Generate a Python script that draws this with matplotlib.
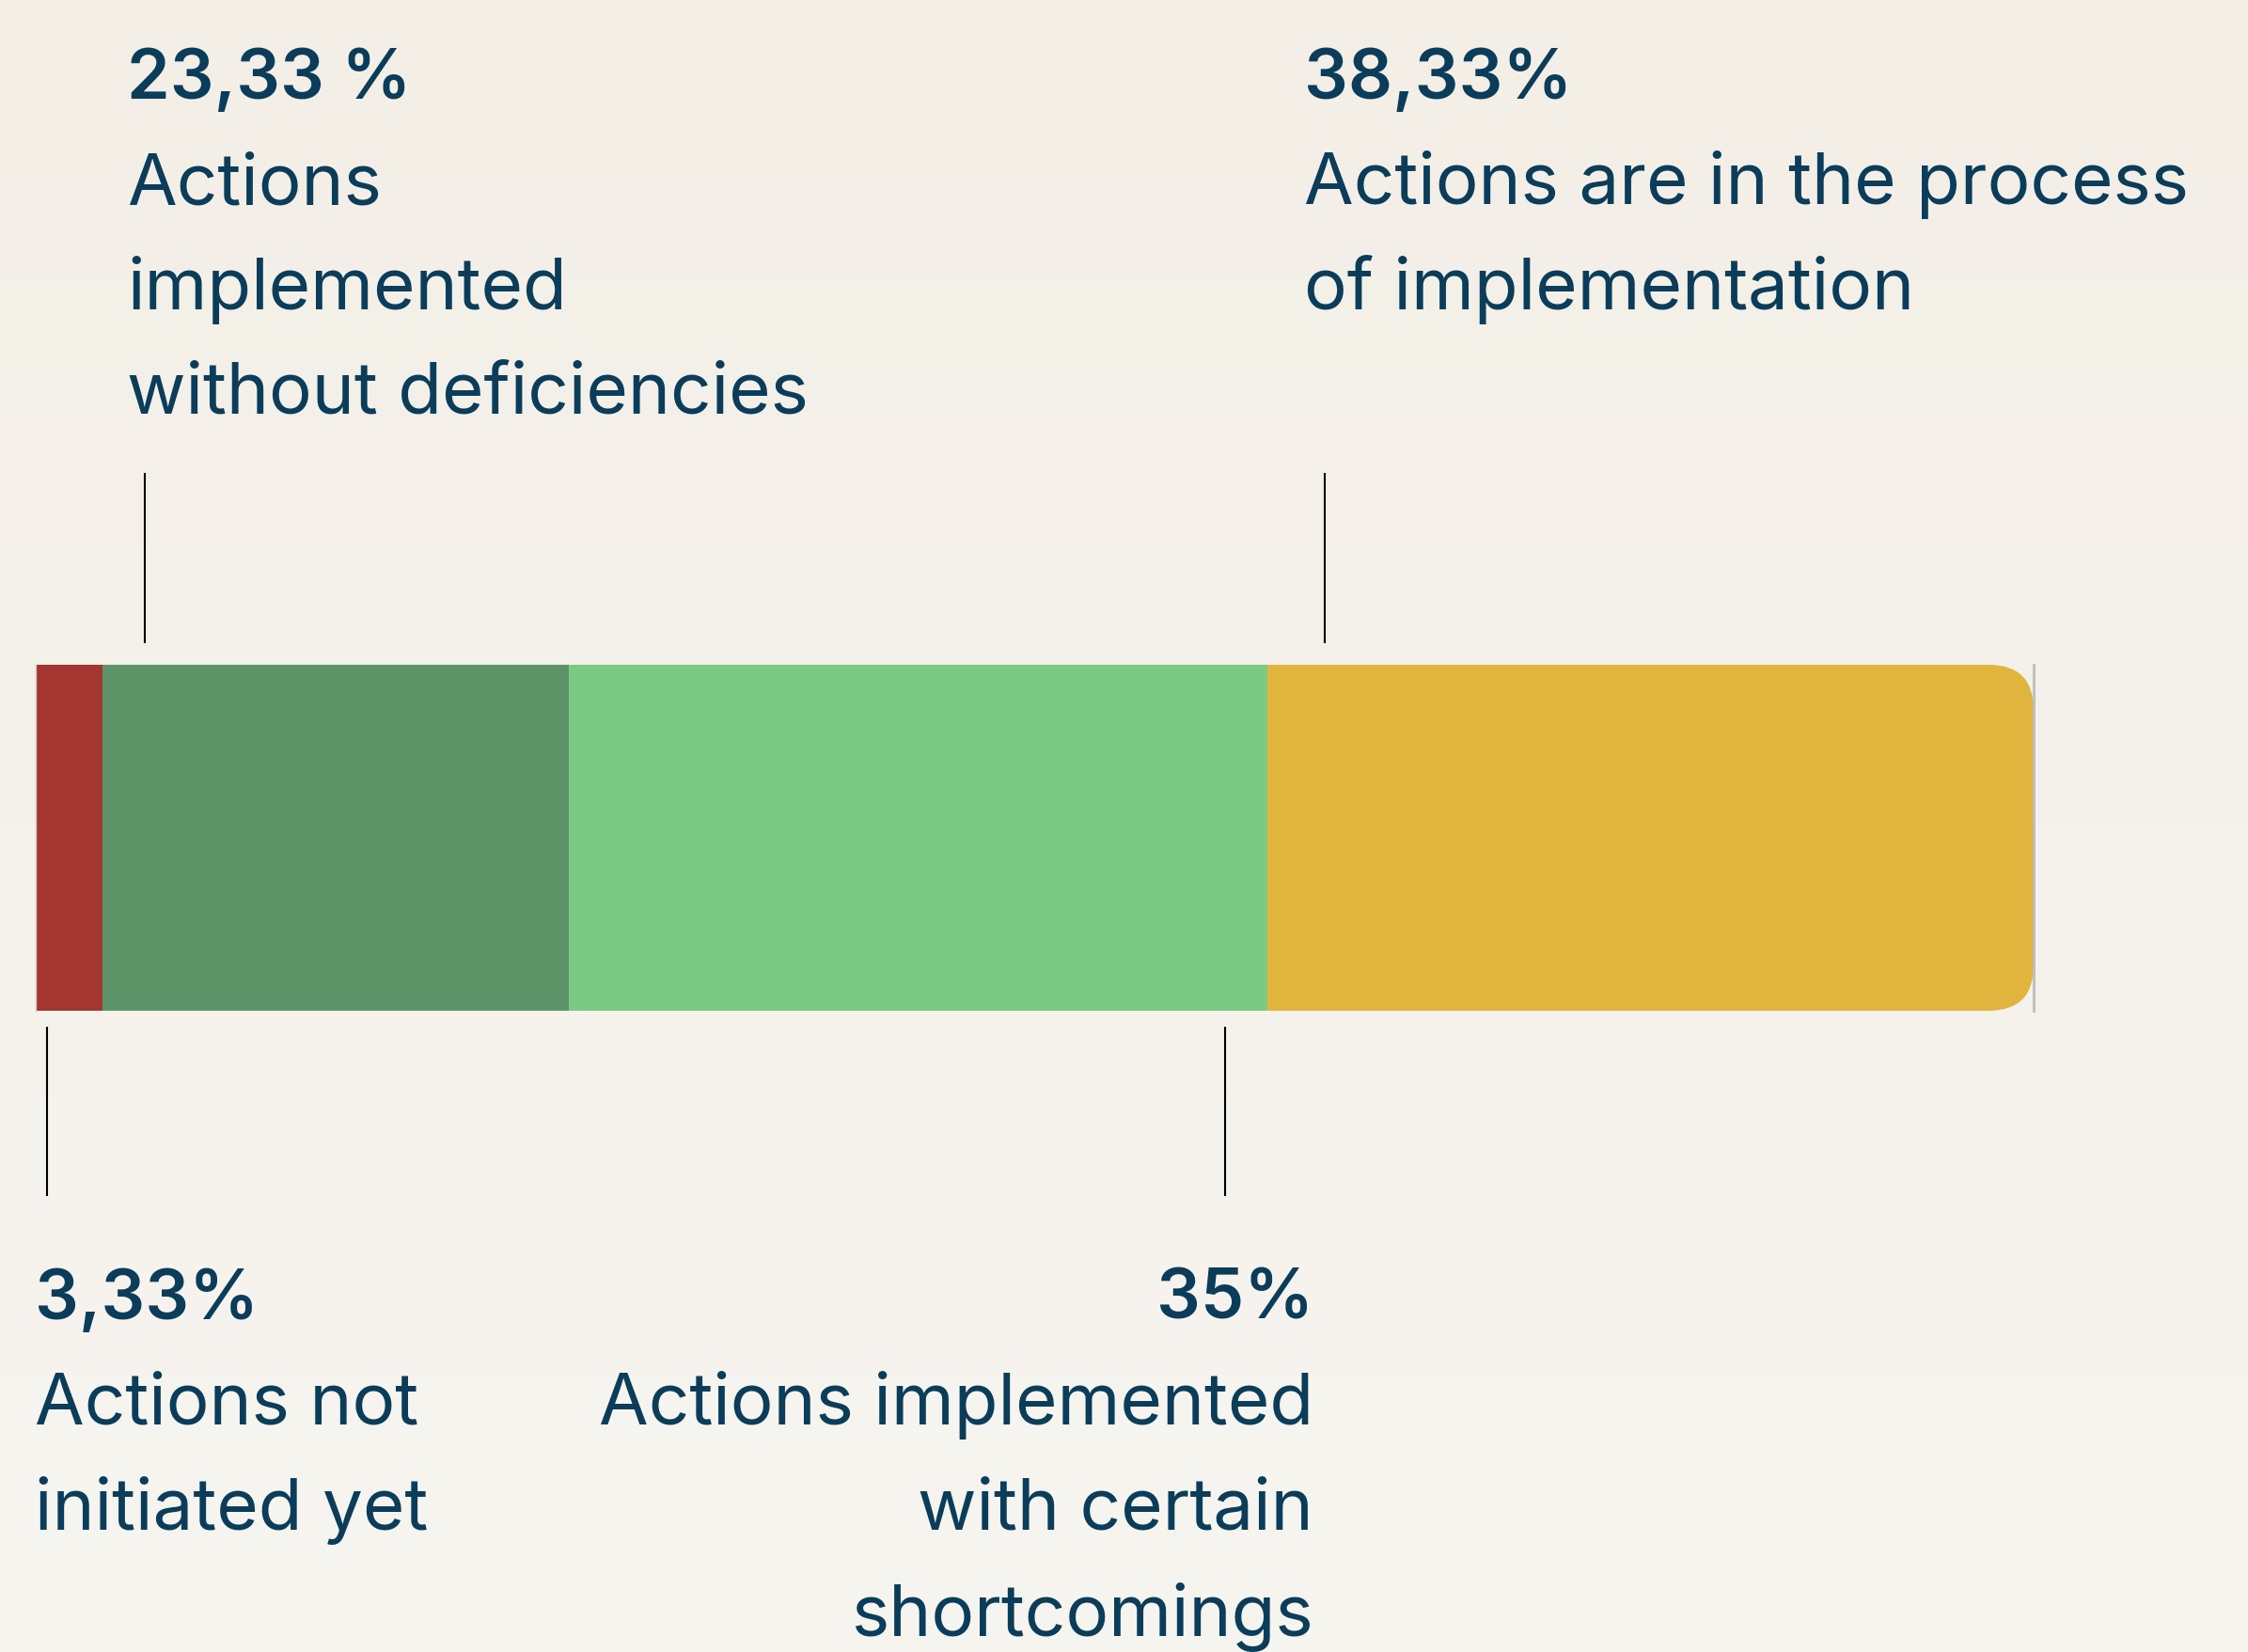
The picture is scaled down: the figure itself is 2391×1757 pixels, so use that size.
import numpy as np
import matplotlib
matplotlib.use('Agg')
import matplotlib.pyplot as plt
from matplotlib.patches import FancyBboxPatch
from matplotlib.colors import LinearSegmentedColormap
from matplotlib.transforms import blended_transform_factory

# DATA
categories = ['Actions not initiated yet',
              'Actions implemented without deficiencies',
              'Actions implemented with certain shortcomings',
              'Actions are in the process of implementation']
values = [3.33, 23.33, 35.0, 38.33]
value_labels = ['3,33%', '23,33 %', '35%', '38,33%']
label_lines = [['Actions not', 'initiated yet'],
               ['Actions', 'implemented', 'without deficiencies'],
               ['Actions implemented', 'with certain', 'shortcomings'],
               ['Actions are in the process', 'of implementation']]
colors = ['#A33630', '#5C9468', '#7ACA83', '#E1B43E']

# LAYOUT (figure pixels / bar data units)
W, H = 2391, 1758
text_color = '#0B3D5A'
font = 'Inter'
fs = 55
fs_pct = 53
line_gap = 112
leader_x = [0.56, 5.46, 59.5, 64.5]        # where the leader lines touch the bar
side = ['bottom', 'top', 'bottom', 'top']
text_x = [37, 135, 1397, 1387]
text_ha = ['left', 'left', 'right', 'left']

fig = plt.figure(figsize=(W / 100, H / 100), dpi=100)

# background gradient
bg = fig.add_axes([0, 0, 1, 1])
grad = np.linspace(0, 1, 256).reshape(-1, 1)
cmap = LinearSegmentedColormap.from_list('bg', ['#F3EFE7', '#F7F5F0'])
bg.imshow(grad, aspect='auto', cmap=cmap, extent=[0, W, H, 0])
bg.set_xlim(0, W)
bg.set_ylim(H, 0)
bg.axis('off')

# BAR
bw, bh = 2125, 368
ax = fig.add_axes([38 / W, (H - 1076) / H, bw / W, bh / H])
ax.set_facecolor('none')
total = sum(values)
lefts = np.cumsum([0] + values[:-1])
bars = ax.barh([0] * len(values), values, left=lefts, height=1.0, color=colors, linewidth=0)
ax.set_xlim(0, total)
ax.set_ylim(-0.5, 0.5)

# rounded right end
r = 48 / bw
clip = FancyBboxPatch((-0.2, 0), 1.2, 1, boxstyle='round,pad=0,rounding_size=%f' % r,
                      mutation_aspect=bw / bh, transform=ax.transAxes,
                      facecolor='none', edgecolor='none')
ax.add_patch(clip)
for b in bars:
    b.set_clip_path(clip)

ax.set_xticks([])
ax.set_yticks([])
for s in ['top', 'bottom']:
    ax.spines[s].set_visible(False)
ax.spines['left'].set_color('#D0CCC4')
ax.spines['left'].set_linewidth(1.0)
ax.spines['right'].set_color('#BDBDBD')
ax.spines['right'].set_linewidth(2.0)

# LEADER LINES AND LABELS
tr = blended_transform_factory(ax.transData, bg.transData)
for i in range(len(values)):
    if side[i] == 'top':
        y0, y1 = 505, 684
        base = 105
    else:
        y0, y1 = 1094, 1272
        base = 1403
    ax.plot([leader_x[i], leader_x[i]], [y0, y1], transform=tr, color='black',
            linewidth=1.5, clip_on=False)
    bg.text(text_x[i], base, value_labels[i], ha=text_ha[i], va='baseline',
            fontsize=fs_pct, fontweight='semibold', family=font, color=text_color)
    for j, line in enumerate(label_lines[i]):
        bg.text(text_x[i], base + line_gap * (j + 1), line, ha=text_ha[i], va='baseline',
                fontsize=fs, family=font, color=text_color)

plt.savefig('out.png', dpi=100)
